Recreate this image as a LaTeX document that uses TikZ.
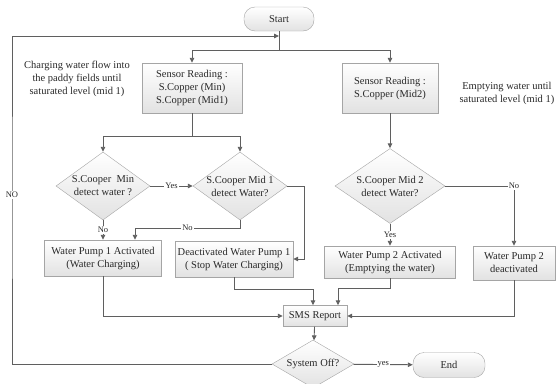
\documentclass[tikz,border=0pt]{standalone}
\usepackage{fontspec}
\setmainfont{Liberation Serif}
\usetikzlibrary{shapes.geometric, arrows.meta, positioning, calc}
\definecolor{linegray}{RGB}{95, 95, 95}
\definecolor{boxgray}{RGB}{165, 165, 165}
\definecolor{fillgray}{RGB}{226, 226, 226}
\definecolor{textgray}{RGB}{40, 40, 40}
\tikzstyle{process} = [
    rectangle, 
    align=center, 
    inner sep=2pt, 
    draw=boxgray, 
    top color=white, 
    bottom color=fillgray, 
    text=textgray, 
    font=\fontsize{10.5}{13}\selectfont
]
\tikzstyle{decision} = [
    diamond, 
    shape aspect=1.4, 
    inner sep=-10pt, 
    align=center, 
    draw=boxgray, 
    top color=white, 
    bottom color=fillgray, 
    text=textgray, 
    font=\fontsize{10.5}{13}\selectfont
]
\tikzstyle{terminal} = [
    rectangle, 
    rounded corners=11pt, 
    draw=boxgray, 
    top color=white, 
    bottom color=fillgray, 
    text=textgray, 
    font=\fontsize{10.5}{13}\selectfont
]
\tikzstyle{link} = [
    line width=0.9pt, 
    color=linegray
]
\tikzstyle{arrow} = [
    line width=0.9pt, 
    ->, 
    >={Triangle[length=5pt, width=4.5pt]}, 
    color=linegray
]
\tikzstyle{lbl} = [
    fill=white, 
    inner sep=1pt, 
    text=textgray, 
    font=\fontsize{8.5}{10}\selectfont
]
\tikzstyle{note} = [
    align=center, 
    text=textgray, 
    font=\fontsize{10.5}{13}\selectfont
]

\begin{document}
\begin{tikzpicture}[x=1pt, y=-1pt]
        \useasboundingbox (0,0) rectangle (556,383);

        % Start
        \node[terminal, minimum width=70pt, minimum height=24pt] (start) at (279, 19) {Start};
        \coordinate (split) at (279, 50);
        \coordinate (loopin) at (279, 36);

        % Sensor readings
        \node[process, minimum width=100pt, minimum height=50pt] (sensorA) at (192, 88) {Sensor Reading :\\S.Copper (Min)\\S.Copper (Mid1)};
        \node[process, minimum width=96pt, minimum height=50pt] (sensorB) at (390, 88) {Sensor Reading :\\S.Copper (Mid2)};
        \node[note] (noteA) at (77, 79) {Charging water flow into\\the paddy fields until\\saturated level (mid 1)};
        \node[note, anchor=west] (noteB) at (456, 93.5) {Emptying water until\\saturated level (mid 1)};
        \coordinate (splitA) at (192, 136);

        % Decisions
        \node[decision, minimum width=94pt, minimum height=68pt] (minq) at (103, 186) {S.Cooper\enspace Min\\detect water ?};
        \node[decision, minimum width=94pt, minimum height=68pt] (mid1q) at (240, 186) {S.Cooper Mid 1\\detect Water?};
        \node[decision, minimum width=110pt, minimum height=75pt] (mid2q) at (390, 186) {S.Cooper Mid 2\\detect Water?};

        % Pumps
        \node[process, minimum width=117pt, minimum height=36pt] (pump1on) at (103, 258) {Water Pump 1 Activated\\(Water Charging)};
        \node[process, minimum width=118pt, minimum height=36pt] (pump1off) at (234, 259) {Deactivated Water Pump 1\\( Stop Water Charging)};
        \node[process, minimum width=131pt, minimum height=32pt] (pump2on) at (390, 262) {Water Pump 2 Activated\\(Emptying the water)};
        \node[process, minimum width=82pt, minimum height=34pt] (pump2off) at (514, 263) {Water Pump 2\\deactivated};

        % Report and end
        \node[process, minimum width=64pt, minimum height=21pt] (sms) at (315, 316) {SMS Report};
        \node[decision, minimum width=82pt, minimum height=48pt] (sysoff) at (313, 364) {System Off?};
        \node[terminal, minimum width=72pt, minimum height=25pt] (stop) at (449, 365) {End};

        % Connections
        \draw[link] (start) -- (split);
        \draw[arrow] (split) -| (sensorA);
        \draw[arrow] (split) -| (sensorB);
        \draw[link] (sensorA) -- (splitA);
        \draw[arrow] (splitA) -| (minq);
        \draw[arrow] (splitA) -| (mid1q);
        \draw[arrow] (minq) -- node[lbl]{Yes} (mid1q);
        \draw[arrow] (minq) -- node[lbl]{No} (pump1on);
        \draw[arrow] (mid1q.south) -- ++(0,8) -| node[lbl, pos=0.25]{No} ($(pump1on.north)+(32,0)$);
        \draw[arrow] (mid1q.east) -- ++(17,0) |- (pump1off.east);
        \draw[arrow] (sensorB) -- (mid2q);
        \draw[arrow] (mid2q) -- node[lbl]{Yes} (pump2on);
        \draw[arrow] (mid2q.east) -| node[lbl, pos=0.5]{No} (pump2off);
        \draw[arrow] (pump1on.south) |- (sms.west);
        \draw[arrow] (pump1off.south) -- ++(0,12) -| ($(sms.north)+(-2,0)$);
        \draw[arrow] (pump2on.south) -- ++(0,10) -| ($(sms.north)+(23,0)$);
        \draw[arrow] (pump2off.south) |- (sms.east);
        \draw[arrow] (sms) -- (sysoff);
        \draw[arrow] (sysoff) -- node[lbl]{yes} (stop);
        \draw[arrow] (sysoff.west) -| (12, 195) node[lbl]{NO} |- (loopin);
    \end{tikzpicture}
\end{document}
